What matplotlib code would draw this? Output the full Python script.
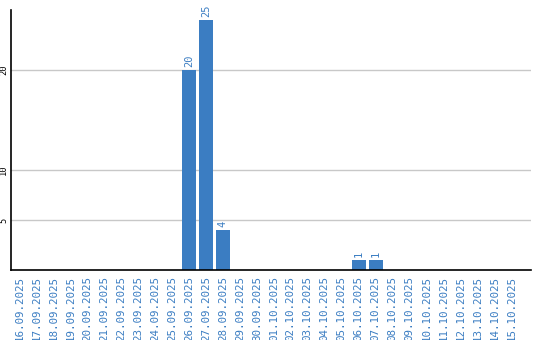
import numpy as np
import matplotlib
matplotlib.use('Agg')
import matplotlib.pyplot as plt

# daily counts, 16.09.2025 - 15.10.2025
dates = ['16.09.2025', '17.09.2025', '18.09.2025', '19.09.2025', '20.09.2025',
         '21.09.2025', '22.09.2025', '23.09.2025', '24.09.2025', '25.09.2025',
         '26.09.2025', '27.09.2025', '28.09.2025', '29.09.2025', '30.09.2025',
         '01.10.2025', '02.10.2025', '03.10.2025', '04.10.2025', '05.10.2025',
         '06.10.2025', '07.10.2025', '08.10.2025', '09.10.2025', '10.10.2025',
         '11.10.2025', '12.10.2025', '13.10.2025', '14.10.2025', '15.10.2025']
counts = [0, 0, 0, 0, 0, 0, 0, 0, 0, 0,
          20, 25, 4, 0, 0, 0, 0, 0, 0, 0,
          1, 1, 0, 0, 0, 0, 0, 0, 0, 0]
yticks = [5, 10, 20]

blue = '#3b7dc2'

fig = plt.figure(figsize=(5.4, 3.4), dpi=100)
ax = fig.add_axes([0.020, 0.206, 0.963, 0.765])

x = np.arange(len(dates))
ax.bar(x, counts, width=0.82, color=blue, zorder=3)

# value labels above non-zero bars
for xi, v in zip(x, counts):
    if v > 0:
        ax.text(xi, v + 0.3, str(v), rotation=90, ha='center', va='bottom',
                fontsize=7.5, color=blue, family='DejaVu Sans Mono')

ax.set_xlim(-0.5, 30.15)
ax.set_ylim(0, 26)
ax.set_yticks(yticks)
ax.set_yticklabels([str(t) for t in yticks], rotation=90, va='center',
                   fontsize=6.3, family='DejaVu Sans Mono')
ax.set_xticks(x)
ax.set_xticklabels(dates, rotation=90, fontsize=7.8, color=blue,
                   family='DejaVu Sans Mono', va='top')
ax.tick_params(axis='both', length=0, pad=4)
ax.tick_params(axis='y', pad=2)
ax.grid(axis='y', color='#c8c8c8', linewidth=1, zorder=0)

for s in ['top', 'right']:
    ax.spines[s].set_visible(False)
ax.spines['left'].set_color('black')
ax.spines['bottom'].set_color('black')
ax.spines['left'].set_linewidth(1.2)
ax.spines['bottom'].set_linewidth(1.2)
ax.spines['bottom'].set_zorder(4)

fig.savefig('out.png', dpi=100)
